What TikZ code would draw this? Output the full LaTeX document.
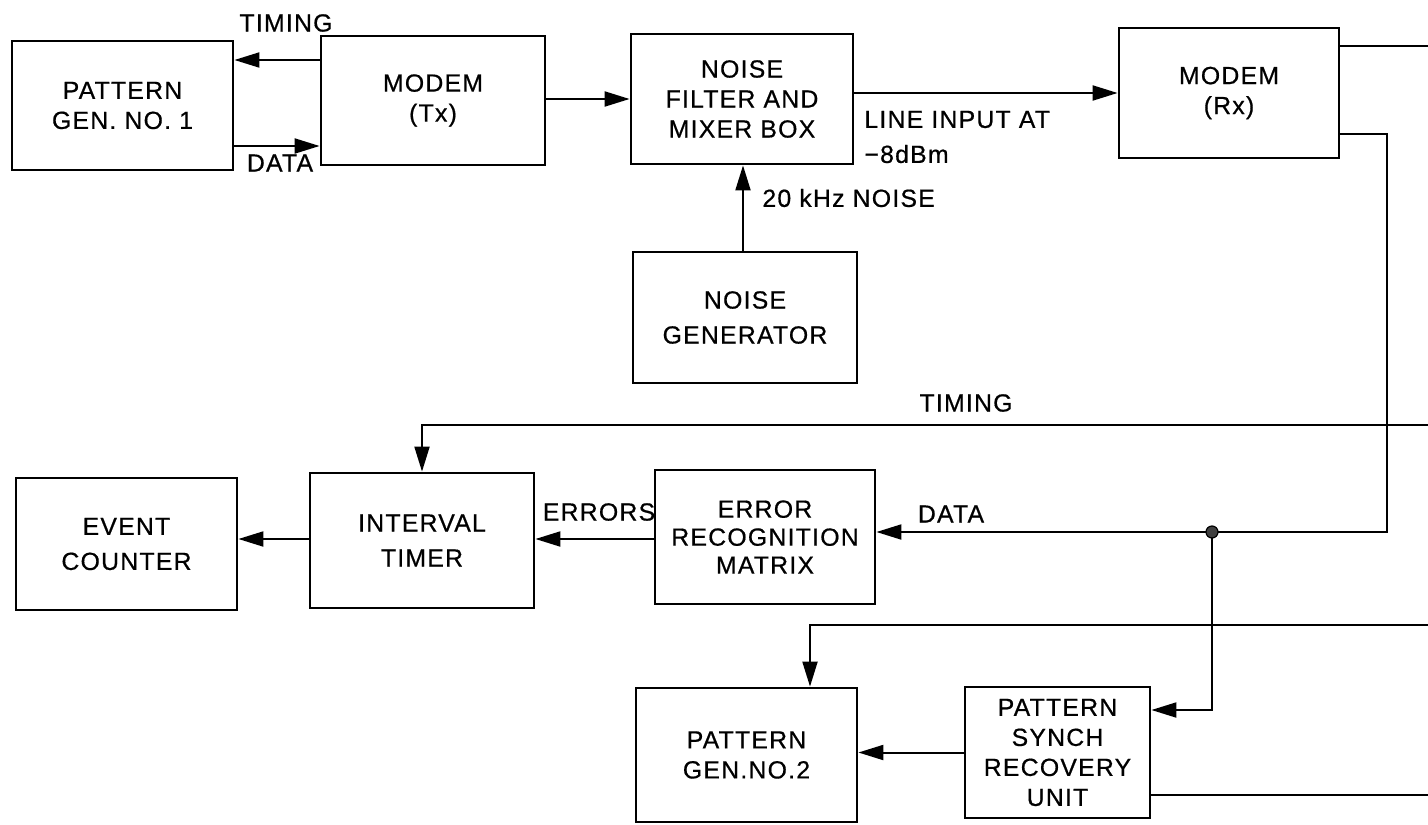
\documentclass[tikz,border=0pt]{standalone}
\usepackage{fontspec}
\setmainfont{Liberation Sans}[LetterSpace=5, FakeBold=0.6]
\usetikzlibrary{arrows.meta}
\tikzset{
  x=0.5pt, y=-0.5pt,
  blk/.style={draw, line width=1.4pt, align=center, inner sep=0pt, font=\fontsize{12.4}{15}\selectfont},
  wide/.style={font=\fontsize{12.4}{17.5}\selectfont},
  conn/.style={line width=1pt},
  arr/.style={conn, -{Triangle[length=12.5pt,width=7.5pt]}},
  lbl/.style={font=\fontsize{12.4}{17.5}\selectfont, inner sep=0pt},
  jdot/.style={fill=black!75, draw=black, line width=0.6pt},
}
\begin{document}
\begin{tikzpicture}
\useasboundingbox (0,0) rectangle (1428,824);
\fill[white] (0,0) rectangle (1428,824);

% blocks
\node[blk, minimum width=110.5pt, minimum height=64.5pt] (pg1) at (122.5,105.5) {PATTERN\\GEN. NO. 1};
\node[blk, minimum width=112pt, minimum height=64.5pt] (mtx) at (433,100.5) {MODEM\\(Tx)};
\node[blk, minimum width=111pt, minimum height=65pt] (nf) at (742,99) {NOISE\\FILTER AND\\MIXER BOX};
\node[blk, minimum width=110pt, minimum height=65pt] (mrx) at (1229,93) {MODEM\\(Rx)};
\node[blk, wide, minimum width=112pt, minimum height=65.5pt] (ng) at (745,317.5) {NOISE\\GENERATOR};
\node[blk, wide, minimum width=110.5pt, minimum height=66pt] (ec) at (126.5,544) {EVENT\\COUNTER};
\node[blk, wide, minimum width=112pt, minimum height=67.5pt] (it) at (422,540.5) {INTERVAL\\TIMER};
\node[blk, font=\fontsize{12.4}{14}\selectfont, minimum width=110pt, minimum height=67pt] (erm) at (765,537) {ERROR\\RECOGNITION\\MATRIX};
\node[blk, minimum width=110.5pt, minimum height=67pt] (pg2) at (746.5,755) {PATTERN\\GEN.NO.2};
\node[blk, minimum width=92.5pt, minimum height=65.5pt] (psru) at (1057.5,752.5) {PATTERN\\SYNCH\\RECOVERY\\UNIT};

% labels
\node[lbl] (lt1) at (286,23) {TIMING};
\node[lbl] (ld1) at (280,163) {DATA};
\node[lbl, align=left, anchor=west] (lli) at (864,137) {LINE INPUT AT\\−8dBm};
\node[lbl, anchor=west] (lnz) at (762,198) {20 kHz NOISE};
\node[lbl] (lt2) at (966,403) {TIMING};
\node[lbl] (ler) at (599,512) {ERRORS};
\node[lbl] (ld2) at (951,514) {DATA};

% helper coordinates
\coordinate (yA) at (0,60);
\coordinate (yB) at (0,146);
\coordinate (yC) at (0,99);
\coordinate (yD) at (0,93);
\coordinate (yE) at (0,46);
\coordinate (yL) at (0,539);
\coordinate (eR) at (1428,46);
\coordinate (c1) at (1387,134);
\coordinate (c2) at (1387,532);
\coordinate (jd) at (1212,532);
\coordinate (c3) at (1212,710);
\coordinate (tR) at (1428,425);
\coordinate (tK) at (422,425);
\coordinate (pR) at (1428,625);
\coordinate (pK) at (810,625);
\coordinate (bR) at (1428,795);

% connectors
\draw[arr] (mtx.west |- yA) -- (pg1.east |- yA);
\draw[arr] (pg1.east |- yB) -- (mtx.west |- yB);
\draw[arr] (mtx.east |- yC) -- (nf.west |- yC);
\draw[arr] (nf.east |- yD) -- (mrx.west |- yD);
\draw[arr] (ng.north -| 743,0) -- (nf.south -| 743,0);
\draw[conn] (mrx.east |- yE) -- (eR);
\draw[arr] (mrx.east |- c1) -- (c1) -- (c2) -- (erm.east |- c2);
\draw[arr] (tR) -- (tK) -- (it.north);
\draw[arr] (jd) -- (c3) -- (psru.east |- c3);
\draw[arr] (pR) -- (pK) -- (pK |- pg2.north);
\draw[arr] (psru.west) -- (psru.west -| pg2.east);
\draw[conn] (psru.east |- bR) -- (bR);
\draw[arr] (erm.west |- yL) -- (it.east |- yL);
\draw[arr] (it.west |- yL) -- (ec.east |- yL);
\draw[jdot] (jd) circle (3pt);
\end{tikzpicture}
\end{document}
